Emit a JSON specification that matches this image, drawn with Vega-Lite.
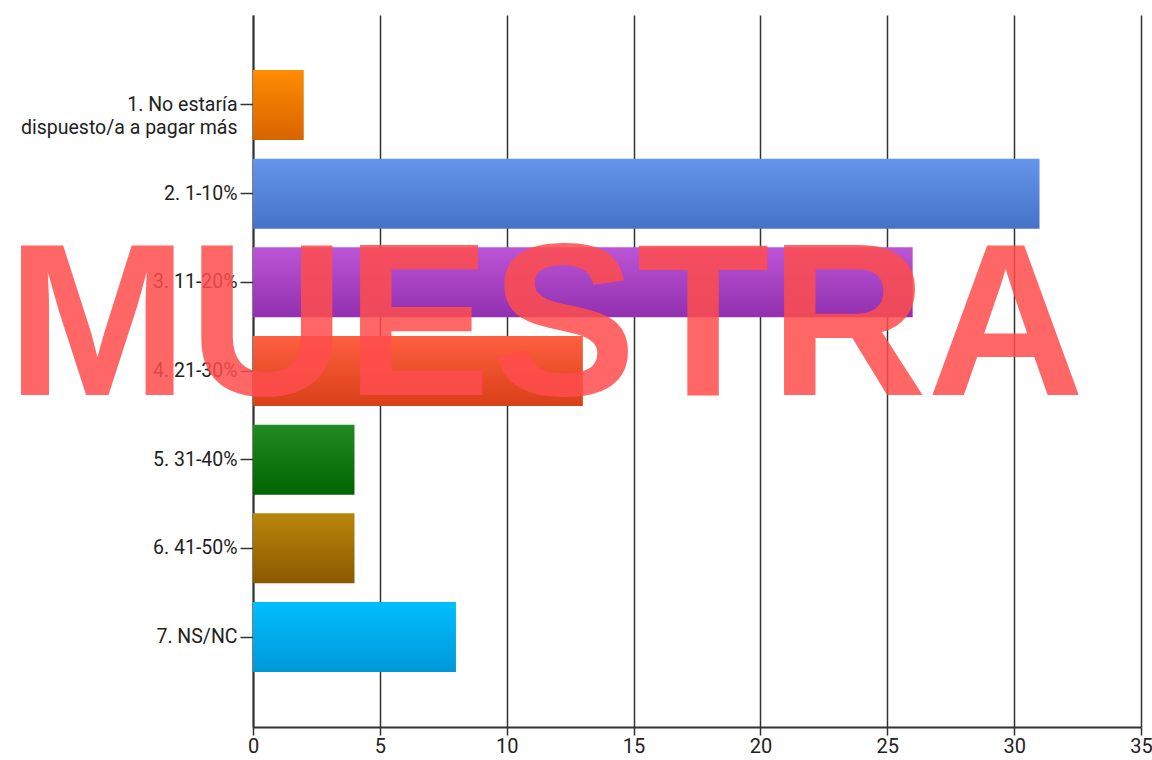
{
  "$schema": "https://vega.github.io/schema/vega-lite/v6.json",
  "autosize": "none",
  "width": 888,
  "height": 712,
  "padding": {"left": 253, "top": 15, "right": 11, "bottom": 33},
  "background": "white",
  "config": {"view": {"stroke": null}},
  "layer": [
    {
      "data": {"values": [
        {"id": 1, "cat": "1. No estaría dispuesto/a a pagar más", "n": 2},
        {"id": 2, "cat": "2. 1-10%", "n": 31},
        {"id": 3, "cat": "3. 11-20%", "n": 26},
        {"id": 4, "cat": "4. 21-30%", "n": 13},
        {"id": 5, "cat": "5. 31-40%", "n": 4},
        {"id": 6, "cat": "6. 41-50%", "n": 4},
        {"id": 7, "cat": "7. NS/NC", "n": 8}
      ]},
      "mark": {"type": "bar"},
      "encoding": {
        "y": {
          "field": "cat", "type": "nominal", "sort": null,
          "scale": {"paddingInner": 0.21, "paddingOuter": 0.62},
          "axis": {
            "title": null,
            "labelExpr": "datum.value == '1. No estaría dispuesto/a a pagar más' ? ['1. No estaría', 'dispuesto/a a pagar más'] : datum.value",
            "labelFont": "Roboto", "labelFontSize": 19.5, "labelColor": "#222",
            "labelLineHeight": 23, "labelPadding": 3, "labelLimit": 300,
            "tickSize": 13, "tickColor": "#333", "tickWidth": 1.5,
            "domainColor": "#333", "domainWidth": 2
          }
        },
        "x": {
          "field": "n", "type": "quantitative",
          "scale": {"domain": [0, 35], "nice": false},
          "axis": {
            "title": null, "values": [0, 5, 10, 15, 20, 25, 30, 35],
            "labelFont": "Roboto", "labelFontSize": 20, "labelColor": "#222",
            "labelPadding": 1, "labelFlush": false,
            "tickSize": 8, "tickColor": "#333", "tickWidth": 1.5,
            "domainColor": "#333", "domainWidth": 2,
            "grid": true, "gridColor": "#333", "gridWidth": 1.5
          }
        },
        "fill": {
          "condition": [
            {"test": "datum.id === 1", "value": {"gradient": "linear", "x1": 0, "y1": 0, "x2": 0, "y2": 1, "stops": [{"offset": 0, "color": "#ff8c00"}, {"offset": 1, "color": "#d86400"}]}},
            {"test": "datum.id === 2", "value": {"gradient": "linear", "x1": 0, "y1": 0, "x2": 0, "y2": 1, "stops": [{"offset": 0, "color": "#6596ec"}, {"offset": 1, "color": "#4472c8"}]}},
            {"test": "datum.id === 3", "value": {"gradient": "linear", "x1": 0, "y1": 0, "x2": 0, "y2": 1, "stops": [{"offset": 0, "color": "#bb55d6"}, {"offset": 1, "color": "#9230b0"}]}},
            {"test": "datum.id === 4", "value": {"gradient": "linear", "x1": 0, "y1": 0, "x2": 0, "y2": 1, "stops": [{"offset": 0, "color": "#ff6040"}, {"offset": 1, "color": "#d84018"}]}},
            {"test": "datum.id === 5", "value": {"gradient": "linear", "x1": 0, "y1": 0, "x2": 0, "y2": 1, "stops": [{"offset": 0, "color": "#228b22"}, {"offset": 1, "color": "#006400"}]}},
            {"test": "datum.id === 6", "value": {"gradient": "linear", "x1": 0, "y1": 0, "x2": 0, "y2": 1, "stops": [{"offset": 0, "color": "#b8860b"}, {"offset": 1, "color": "#8b5800"}]}},
            {"test": "datum.id === 7", "value": {"gradient": "linear", "x1": 0, "y1": 0, "x2": 0, "y2": 1, "stops": [{"offset": 0, "color": "#00bfff"}, {"offset": 1, "color": "#0098d8"}]}}
          ],
          "value": "#999999"
        }
      }
    },
    {
      "data": {"values": [{"label": "MUESTRA", "x": 11.53, "cat": "3. 11-20%"}]},
      "mark": {"type": "text", "font": "Liberation Sans", "fontWeight": "bold", "fontSize": 218, "color": "#ff4d4d", "opacity": 0.85, "align": "center", "baseline": "alphabetic", "dy": 113},
      "encoding": {
        "x": {"field": "x", "type": "quantitative"},
        "y": {"field": "cat", "type": "nominal", "sort": null},
        "text": {"field": "label"}
      }
    }
  ]
}
